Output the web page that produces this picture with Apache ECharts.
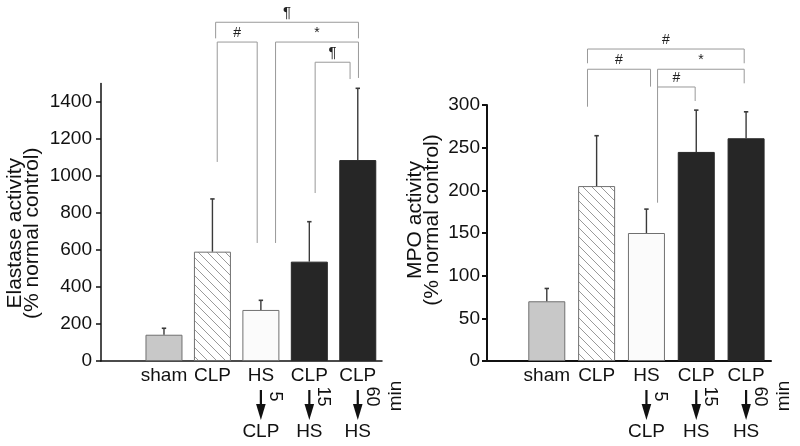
<!DOCTYPE html>
<html><head><meta charset="utf-8">
<script src="https://cdn.jsdelivr.net/npm/echarts@6/dist/echarts.min.js"></script>
<style>html,body{margin:0;padding:0;background:#fff}#c{width:800px;height:446px}</style>
</head><body><div id="c"></div>
<script>
// ---- data ----
const categories = ['sham', 'CLP', 'HS', 'CLP', 'CLP'];
const secondLine = ['', '', 'CLP', 'HS', 'HS'];
const delayLabels = ['', '', '5', '15', '60'];
const catPos = [0, 1, 2, 3, 4];
const elastaseValues = [142, 591, 276, 537, 1086];
const elastaseErrors = [35, 285, 52, 216, 388];
const mpoValues = [70, 205, 150, 245, 261];
const mpoErrors = [15, 59, 28, 49, 31];
const elastaseTicks = [0, 200, 400, 600, 800, 1000, 1200, 1400];
const mpoTicks = [0, 50, 100, 150, 200, 250, 300];
// significance brackets: leg positions (category units), bar height and leg ends (value units)
const elastaseBrackets = [
  { x1: 1.066, x2: 4.014, top: 1831, b1: 1744, b2: 1744, sym: '¶' },
  { x1: 1.099, x2: 1.924, top: 1724, b1: 1076, b2: 638, sym: '#' },
  { x1: 2.303, x2: 4.014, top: 1724, b1: 638, b2: 1530, sym: '*' },
  { x1: 3.120, x2: 3.841, top: 1615, b1: 908, b2: 1524, sym: '¶' }
];
const mpoBrackets = [
  { x1: 0.817, x2: 3.962, top: 365.6, b1: 348.9, b2: 348.9, sym: '#' },
  { x1: 0.817, x2: 2.082, top: 341.9, b1: 298, b2: 321.5, sym: '#' },
  { x1: 2.223, x2: 3.962, top: 341.9, b1: 321.1, b2: 325.4, sym: '*' },
  { x1: 2.223, x2: 2.978, top: 321.1, b1: 185.5, b2: 304.7, sym: '#' }
];

// ---- styles ----
const FONT = '"Liberation Sans", Arial, Helvetica, sans-serif';
const INK = '#111';
function makeHatch() {
  const c = document.createElement('canvas');
  c.width = 9; c.height = 9;
  const g = c.getContext('2d');
  g.fillStyle = '#ffffff'; g.fillRect(0, 0, 9, 9);
  g.strokeStyle = '#9a9a9a'; g.lineWidth = 1;
  g.beginPath();
  g.moveTo(-2, -2); g.lineTo(11, 11);
  g.moveTo(-2, 7); g.lineTo(2, 11);
  g.moveTo(7, -2); g.lineTo(11, 2);
  g.stroke();
  return c;
}
const hatch = makeHatch();
const barStyles = [
  { color: '#c8c8c8', borderColor: '#707070', borderWidth: 1 },
  { color: { image: hatch, repeat: 'repeat' }, borderColor: '#707070', borderWidth: 1 },
  { color: '#fbfbfb', borderColor: '#707070', borderWidth: 1 },
  { color: '#262626', borderColor: '#262626', borderWidth: 1 },
  { color: '#262626', borderColor: '#262626', borderWidth: 1 }
];
const symbolSizes = { '¶': 15, '#': 14, '*': 14 };

function textEl(x, y, text, size, rot, align, valign, color) {
  return {
    type: 'text', x: x, y: y, rotation: rot || 0,
    style: {
      text: text, fill: color || INK, fontSize: size, fontFamily: FONT,
      align: align || 'center', verticalAlign: valign || 'middle',
      textAlign: align || 'center', textVerticalAlign: valign || 'middle'
    }
  };
}

function barSeries(idx, values) {
  return {
    type: 'bar', xAxisIndex: idx, yAxisIndex: idx, barWidth: 37, z: 2,
    data: catPos.map((x, k) => ({ value: [x, values[k]], itemStyle: barStyles[k] }))
  };
}
function errorSeries(idx, values, errors) {
  return {
    type: 'custom', xAxisIndex: idx, yAxisIndex: idx, z: 3, clip: false,
    encode: { x: 0, y: [1, 2] },
    data: catPos.map((x, k) => [x, values[k], values[k] + errors[k]]),
    renderItem: function (params, api) {
      const a = api.coord([api.value(0), api.value(1)]);
      const b = api.coord([api.value(0), api.value(2)]);
      return {
        type: 'group', children: [
          { type: 'line', shape: { x1: a[0], y1: a[1], x2: b[0], y2: b[1] }, style: { stroke: '#3a3a3a', lineWidth: 1.4 } },
          { type: 'line', shape: { x1: b[0] - 2.2, y1: b[1], x2: b[0] + 2.2, y2: b[1] }, style: { stroke: '#3a3a3a', lineWidth: 1.6 } }
        ]
      };
    }
  };
}
function bracketSeries(idx, brackets) {
  return {
    type: 'custom', xAxisIndex: idx, yAxisIndex: idx, z: 4, clip: false,
    encode: { x: [0, 1], y: [2, 3, 4] },
    data: brackets.map(b => [b.x1, b.x2, b.top, b.b1, b.b2]),
    renderItem: function (params, api) {
      const t1 = api.coord([api.value(0), api.value(2)]);
      const t2 = api.coord([api.value(1), api.value(2)]);
      const l1 = api.coord([api.value(0), api.value(3)]);
      const l2 = api.coord([api.value(1), api.value(4)]);
      const sym = brackets[params.dataIndex].sym;
      return {
        type: 'group', children: [
          { type: 'polyline', shape: { points: [[l1[0], l1[1]], [t1[0], t1[1]], [t2[0], t2[1]], [l2[0], l2[1]]] },
            style: { stroke: '#999999', lineWidth: 1, fill: null } },
          textEl((t1[0] + t2[0]) / 2, t1[1] - 2, sym, symbolSizes[sym], 0, 'center', 'bottom', '#222')
        ]
      };
    }
  };
}
function annotationSeries(idx) {
  return {
    type: 'custom', xAxisIndex: idx, yAxisIndex: idx, z: 5, clip: false,
    encode: { x: 0, y: 1 },
    data: catPos.map(x => [x, 0]),
    renderItem: function (params, api) {
      const k = params.dataIndex;
      const p = api.coord([api.value(0), api.value(1)]);
      const children = [];
      if (secondLine[k]) {
        children.push({ type: 'line', shape: { x1: p[0], y1: p[1] + 29, x2: p[0], y2: p[1] + 46 }, style: { stroke: INK, lineWidth: 2.2 } });
        children.push({ type: 'polygon', shape: { points: [[p[0] - 4.8, p[1] + 43], [p[0] + 4.8, p[1] + 43], [p[0], p[1] + 59]] }, style: { fill: INK } });
        children.push(textEl(p[0] + 14, p[1] + 35.5, delayLabels[k], 18, -Math.PI / 2));
        children.push(textEl(p[0], p[1] + 71, secondLine[k], 19));
      }
      if (k === catPos.length - 1) {
        children.push(textEl(p[0] + 38, p[1] + 35, 'min', 19, Math.PI / 2));
      }
      return { type: 'group', children: children };
    }
  };
}

function xAxisCfg(idx, min, lw) {
  return {
    gridIndex: idx, type: 'value', min: min, max: 4.5,
    axisLine: { onZero: false, lineStyle: { color: INK, width: lw } },
    axisTick: { show: false }, splitLine: { show: false },
    axisLabel: {
      customValues: catPos, margin: 5, fontSize: 19, fontFamily: FONT, color: INK,
      formatter: function (v) {
        const r = Math.round(v);
        if (Math.abs(v - r) > 0.01) return '';
        return categories[r] !== undefined ? categories[r] : '';
      }
    }
  };
}
function yAxisCfg(idx, max, ticks, name, gap, pad, lw, margin) {
  return {
    gridIndex: idx, type: 'value', min: 0, max: max,
    name: name, nameLocation: 'middle', nameRotate: 90, nameGap: gap,
    nameTextStyle: { fontSize: 21, lineHeight: 17, fontFamily: FONT, color: INK, padding: pad },
    axisLine: { show: true, onZero: false, lineStyle: { color: INK, width: lw } },
    axisTick: { show: true, inside: false, length: 5, customValues: ticks, lineStyle: { color: INK, width: lw } },
    axisLabel: {
      customValues: ticks, margin: margin, fontSize: 19, fontFamily: FONT, color: INK,
      formatter: function (v) { return ticks.indexOf(v) >= 0 ? String(v) : ''; }
    },
    splitLine: { show: false }
  };
}

const chart = echarts.init(document.getElementById('c'), null, { renderer: 'canvas' });
chart.setOption({
  animation: false,
  backgroundColor: '#ffffff',
  grid: [
    { left: 101, right: 418, top: 83.5, bottom: 85 },
    { left: 487, right: 29, top: 105, bottom: 85 }
  ],
  xAxis: [xAxisCfg(0, -1.3, 1.5), xAxisCfg(1, -1.2, 2)],
  yAxis: [
    yAxisCfg(0, 1500, elastaseTicks, 'Elastase activity\n(% normal control)', 60, [0, 22, 0, 0], 1.5, 9),
    yAxisCfg(1, 300, mpoTicks, 'MPO activity\n(% normal control)', 46, [0, 0, 0, 26], 2, 7)
  ],
  series: [
    barSeries(0, elastaseValues), errorSeries(0, elastaseValues, elastaseErrors),
    bracketSeries(0, elastaseBrackets), annotationSeries(0),
    barSeries(1, mpoValues), errorSeries(1, mpoValues, mpoErrors),
    bracketSeries(1, mpoBrackets), annotationSeries(1)
  ]
});
</script>
</body></html>
